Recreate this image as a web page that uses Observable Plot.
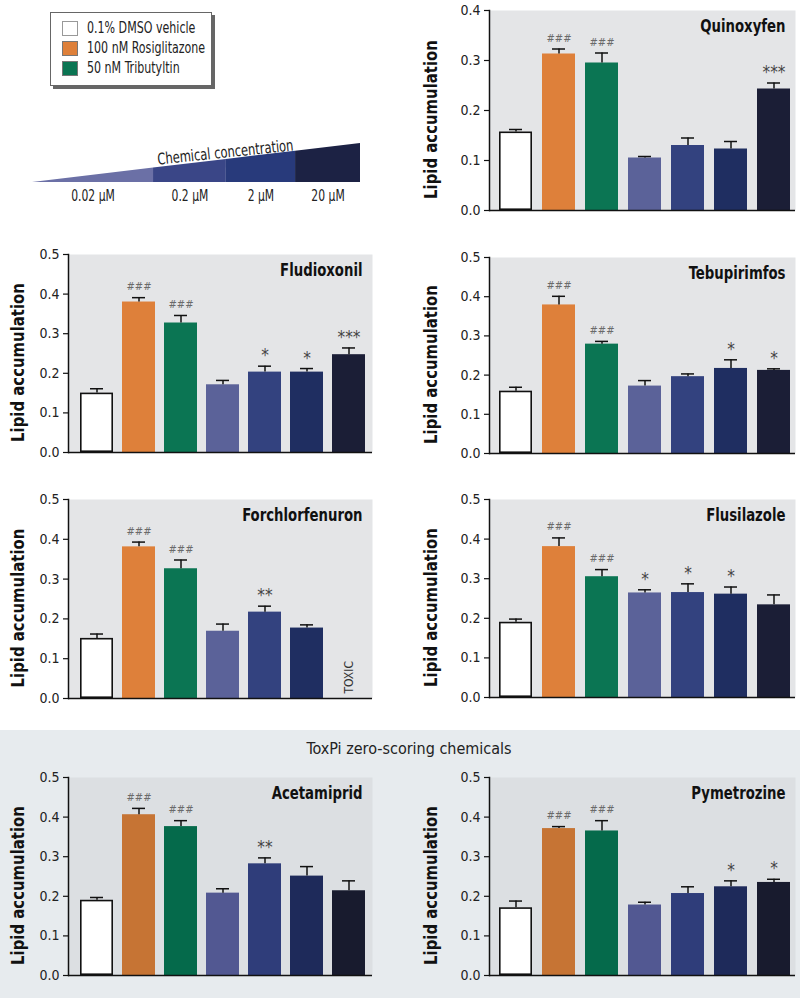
<!DOCTYPE html>
<html><head><meta charset="utf-8">
<script src="https://cdn.jsdelivr.net/npm/d3@7"></script>
<script src="https://cdn.jsdelivr.net/npm/@observablehq/plot@0.6"></script>
<style>
body{margin:0;background:#fff;}
#root{position:relative;width:800px;height:998px;overflow:hidden;font-family:"Liberation Sans Narrow","DejaVu Sans Condensed","Roboto Condensed",sans-serif;color:#222;}
.abs{position:absolute;}
.abs svg{display:block;}
</style></head><body><div id="root"></div>
<script>
// ---------- data ----------
const groups = ["0.1% DMSO vehicle","100 nM Rosiglitazone","50 nM Tributyltin","0.02 μM","0.2 μM","2 μM","20 μM"];
const legendLabels = ["0.1% DMSO vehicle","100 nM Rosiglitazone","50 nM Tributyltin"];
const concLabels = ["0.02 μM","0.2 μM","2 μM","20 μM"];
const wedgeTitle = "Chemical concentration";
const sectionTitle = "ToxPi zero-scoring chemicals";
const yLabel = "Lipid accumulation";
const yTicks04 = [0,0.1,0.2,0.3,0.4];
const yTicks05 = [0,0.1,0.2,0.3,0.4,0.5];

const quinoxyfenMean = [0.157,0.313,0.295,0.105,0.130,0.123,0.243];
const quinoxyfenSem  = [0.005,0.010,0.020,0.003,0.015,0.015,0.012];
const quinoxyfenSig  = ["","###","###","","","","***"];

const fludioxonilMean = [0.150,0.380,0.327,0.171,0.203,0.203,0.247];
const fludioxonilSem  = [0.011,0.011,0.019,0.011,0.015,0.009,0.017];
const fludioxonilSig  = ["","###","###","","*","*","***"];

const tebupirimfosMean = [0.159,0.379,0.279,0.172,0.196,0.217,0.212];
const tebupirimfosSem  = [0.010,0.022,0.007,0.014,0.007,0.022,0.004];
const tebupirimfosSig  = ["","###","###","","","*","*"];

const forchlorfenuronMean = [0.151,0.381,0.326,0.169,0.217,0.177,null];
const forchlorfenuronSem  = [0.011,0.012,0.022,0.018,0.015,0.008,null];
const forchlorfenuronSig  = ["","###","###","","**","",""];
const forchlorfenuronNote = ["","","","","","","TOXIC"];

const flusilazoleMean = [0.190,0.381,0.305,0.264,0.265,0.261,0.234];
const flusilazoleSem  = [0.008,0.022,0.018,0.008,0.022,0.018,0.025];
const flusilazoleSig  = ["","###","###","*","*","*",""];

const acetamipridMean = [0.190,0.406,0.376,0.208,0.282,0.251,0.214];
const acetamipridSem  = [0.007,0.016,0.015,0.011,0.015,0.024,0.025];
const acetamipridSig  = ["","###","###","","**","",""];

const pymetrozineMean = [0.171,0.371,0.365,0.178,0.207,0.224,0.235];
const pymetrozineSem  = [0.017,0.005,0.026,0.007,0.017,0.015,0.008];
const pymetrozineSig  = ["","###","###","","","*","*"];

const colorsTop    = ["#ffffff","#de803a","#0b7553","#5b6299","#33427f","#1f2e61","#1b1e36"];
const colorsBottom = ["#ffffff","#c67434","#056a4b","#525892","#2f3d7a","#1e2a5a","#181b2e"];
const wedgeColors  = ["#6b70a6","#3a4687","#283a7b","#1c2244"];
const wedgeBounds  = [0,0.369,0.591,0.802,1];

// ---------- layout ----------
const FONT = '"Liberation Sans Narrow","DejaVu Sans Condensed","Roboto Condensed",sans-serif';
const root = document.getElementById("root");
function place(el, left, top){
  const d = document.createElement("div");
  d.className = "abs"; d.style.left = left+"px"; d.style.top = top+"px";
  d.appendChild(el); root.appendChild(d); return d;
}
// horizontally condense chosen SVG texts (font substitute is wider than the original)
function squeeze(svg, k, match){
  svg.querySelectorAll("text").forEach(t=>{
    if (match(t.textContent)) {
      const tr = t.getAttribute("transform") || "";
      t.setAttribute("transform", tr + ` scale(${k},1)`);
    }
  });
}

// bottom section background + title
const band = document.createElement("div");
band.className = "abs";
Object.assign(band.style,{left:"0px",top:"730px",width:"800px",height:"268px",background:"#e7ebee"});
root.appendChild(band);
const st = document.createElement("div");
st.className = "abs"; st.textContent = sectionTitle;
Object.assign(st.style,{left:"0px",top:"739px",width:"818px",textAlign:"center",fontSize:"16px",color:"#222"});
root.appendChild(st);

// legend
const leg = document.createElement("div");
Object.assign(leg.style,{width:"160px",height:"72px",border:"1px solid #666",background:"#fff",boxShadow:"3px 3px 0 #666",position:"relative"});
legendLabels.forEach((lab,i)=>{
  const sw = document.createElement("div");
  Object.assign(sw.style,{position:"absolute",left:"11px",top:(8+i*20)+"px",width:"16px",height:"15px",background:colorsTop[i],border: "1px solid "+(i===0?"#999":"#777"),boxSizing:"border-box"});
  const tx = document.createElement("div");
  tx.textContent = lab;
  Object.assign(tx.style,{position:"absolute",left:"36px",top:(6+i*20)+"px",fontSize:"15px",lineHeight:"18px",whiteSpace:"nowrap",transform:"scaleX(0.82)",transformOrigin:"0 50%"});
  leg.appendChild(sw); leg.appendChild(tx);
});
place(leg, 50, 12);

// wedge
const segs = concLabels.map((c,i)=>({label:c, a:wedgeBounds[i], b:wedgeBounds[i+1], mid:(wedgeBounds[i]+wedgeBounds[i+1])/2, color:wedgeColors[i]}));
const wedgePts = segs.flatMap(s=>[{x:s.a,y:s.a,label:s.label,color:s.color},{x:s.b,y:s.b,label:s.label,color:s.color}]);
const wedge = Plot.plot({
  width:400, height:80, marginLeft:32, marginRight:40, marginTop:13, marginBottom:28,
  style:{fontFamily:FONT, fontSize:"14px", background:"transparent", overflow:"visible"},
  x:{domain:[0,1], axis:null}, y:{domain:[0,1], axis:null},
  marks:[
    Plot.areaY(wedgePts,{x:"x", y1:0, y2:"y", z:"label", fill:"color"}),
    Plot.text(segs,{x:"mid", y:()=>0, text:"label", dy:14, lineAnchor:"middle", fontSize:15, fill:"#222"}),
    Plot.text([wedgeTitle],{x:()=>0.588, y:()=>0.77, rotate:-6, lineAnchor:"middle", fontSize:16, fill:"#222"})
  ]
});
squeeze(wedge, 0.8, s=>true);
place(wedge, 0, 130);

// panels
function panel(cfg){
  const isLeft = cfg.left === 0;
  const marginLeft = isLeft ? 68 : 89;
  const marginRight = isLeft ? 28 : 5;
  const data = groups.map((g,i)=>({group:g, mean:cfg.means[i], upper: cfg.means[i]==null?null:cfg.means[i]+cfg.sems[i], sig:cfg.sigs[i], note:cfg.notes?cfg.notes[i]:""}));
  const bars = data.filter(d=>d.mean!=null);
  const hashes = bars.filter(d=>d.sig.startsWith("#"));
  const stars = bars.filter(d=>d.sig.startsWith("*"));
  const notes = data.filter(d=>d.note);
  const p = Plot.plot({
    width:400, height:cfg.height, marginLeft, marginRight, marginTop:cfg.marginTop, marginBottom:cfg.marginBottom,
    style:{fontFamily:FONT, fontSize:"14px", background:"transparent", color:"#222", overflow:"visible"},
    x:{domain:groups, paddingInner:0.2256, paddingOuter:0.159, align:isLeft?0.62:0.69, axis:null},
    y:{domain:[0,cfg.yMax], axis:null},
    color:{domain:groups, range:cfg.palette},
    marks:[
      Plot.frame({fill:cfg.bg, stroke:null}),
      Plot.barY(bars,{x:"group", y:"mean", fill:"group", filter:d=>d.group!==groups[0]}),
      Plot.barY(bars,{x:"group", y:"mean", fill:"#fff", stroke:"#111", strokeWidth:1.6, inset:0.8, filter:d=>d.group===groups[0]}),
      Plot.ruleX(bars,{x:"group", y1:"mean", y2:"upper", stroke:"#111", strokeWidth:1.5}),
      Plot.tickY(bars,{x:"group", y:"upper", stroke:"#111", strokeWidth:1.5, insetLeft:10, insetRight:10}),
      Plot.text(hashes,{x:"group", y:"upper", text:"sig", dy:-11, lineAnchor:"middle", fontSize:11, fontStyle:"italic", fill:"#6a6a6a"}),
      Plot.text(stars,{x:"group", y:"upper", text:"sig", dy:-5, lineAnchor:"bottom", fontSize:17, fill:"#444"}),
      Plot.text(notes,{x:"group", y:()=>0, text:"note", rotate:-90, textAnchor:"start", lineAnchor:"middle", dy:-5, fontSize:12, fill:"#333"}),
      Plot.axisY({ticks:cfg.ticks, tickFormat:d3.format(".1f"), tickSize:5, tickPadding:4, label:null, fontSize:14, stroke:"#111", strokeWidth:1.2}),
      Plot.frame({anchor:"left", stroke:"#111", strokeWidth:1.5}),
      Plot.ruleY([0],{stroke:"#111", strokeWidth:1.5}),
      Plot.text([cfg.name],{frameAnchor:"top-right", dx:-10, dy:16, lineAnchor:"middle", fontWeight:"bold", fontSize:18, fill:"#111"}),
      Plot.text([yLabel],{frameAnchor:"left", rotate:-90, textAnchor:"middle", lineAnchor:"middle", dx:(isLeft?18:31)-marginLeft, dy:9, fontWeight:"bold", fontSize:18, fill:"#111"})
    ]
  });
  squeeze(p, 0.82, s=>s===cfg.name);
  squeeze(p, 0.92, s=>s===yLabel);
  place(p, cfg.left, cfg.top);
}

const bgTop = "#e4e5e7", bgBottom = "#dcdfe2";
panel({name:"Quinoxyfen", means:quinoxyfenMean, sems:quinoxyfenSem, sigs:quinoxyfenSig, left:400, top:0, height:222, marginTop:10, marginBottom:12, yMax:0.4, ticks:yTicks04, palette:colorsTop, bg:bgTop});
panel({name:"Fludioxonil", means:fludioxonilMean, sems:fludioxonilSem, sigs:fludioxonilSig, left:0, top:240, height:230, marginTop:14, marginBottom:18, yMax:0.5, ticks:yTicks05, palette:colorsTop, bg:bgTop});
panel({name:"Tebupirimfos", means:tebupirimfosMean, sems:tebupirimfosSem, sigs:tebupirimfosSig, left:400, top:240, height:230, marginTop:17, marginBottom:17, yMax:0.5, ticks:yTicks05, palette:colorsTop, bg:bgTop});
panel({name:"Forchlorfenuron", means:forchlorfenuronMean, sems:forchlorfenuronSem, sigs:forchlorfenuronSig, notes:forchlorfenuronNote, left:0, top:480, height:230, marginTop:19, marginBottom:12, yMax:0.5, ticks:yTicks05, palette:colorsTop, bg:bgTop});
panel({name:"Flusilazole", means:flusilazoleMean, sems:flusilazoleSem, sigs:flusilazoleSig, left:400, top:480, height:230, marginTop:19, marginBottom:13, yMax:0.5, ticks:yTicks05, palette:colorsTop, bg:bgTop});
panel({name:"Acetamiprid", means:acetamipridMean, sems:acetamipridSem, sigs:acetamipridSig, left:0, top:760, height:230, marginTop:17, marginBottom:15, yMax:0.5, ticks:yTicks05, palette:colorsBottom, bg:bgBottom});
panel({name:"Pymetrozine", means:pymetrozineMean, sems:pymetrozineSem, sigs:pymetrozineSig, left:400, top:760, height:230, marginTop:17, marginBottom:15, yMax:0.5, ticks:yTicks05, palette:colorsBottom, bg:bgBottom});
</script></body></html>
